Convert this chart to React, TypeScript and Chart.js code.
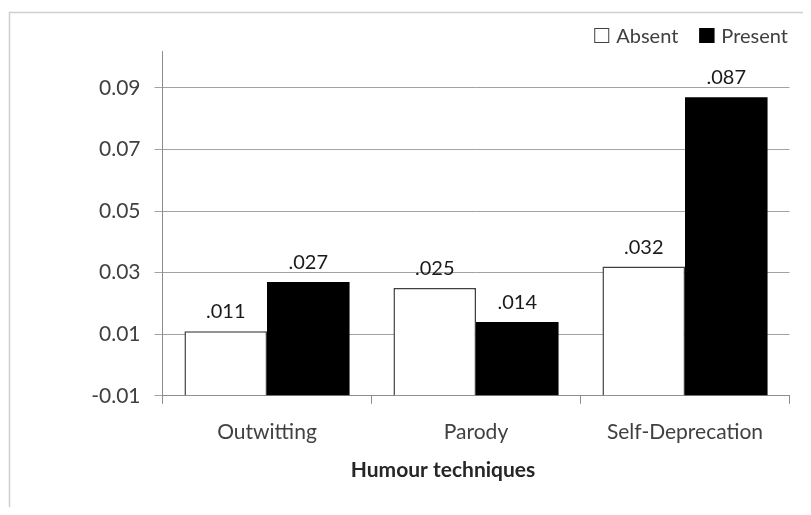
import { useEffect, useRef } from 'react';
import { Chart, registerables } from 'chart.js';

Chart.register(...registerables);

// Proportion of jokes by humour technique, split by whether the feature was present
const CATEGORIES = ['Outwitting', 'Parody', 'Self-Deprecation'];
const SERIES_NAMES = ['Absent', 'Present'];
const ABSENT = [0.011, 0.025, 0.032];
const PRESENT = [0.027, 0.014, 0.087];
const Y_TICKS = [-0.01, 0.01, 0.03, 0.05, 0.07, 0.09];
const X_TITLE = 'Humour techniques';

const Y_MIN = -0.01;
const Y_MAX = 0.102;

const FONT = 'Lato, "Open Sans", sans-serif';
const TEXT_GREY = '#404040';
const AXIS_GREY = '#8c8c8c';
const GRID_GREY = '#a3a3a3';

const CANVAS_W = 795;
const CANVAS_H = 499;

// ".011" style labels
const formatValue = (v: number) => v.toFixed(3).replace(/^0/, '');

// Light outer frame of the chart object
const framePlugin = {
  id: 'frame',
  beforeDraw(chart: Chart) {
    const { ctx } = chart;
    ctx.save();
    ctx.strokeStyle = '#cfcfcf';
    ctx.lineWidth = 1.5;
    ctx.strokeRect(1.5, 4.5, 2000, 2000);
    ctx.restore();
  },
};

// Value labels above each bar
const valueLabelPlugin = {
  id: 'valueLabels',
  afterDatasetsDraw(chart: Chart) {
    const { ctx } = chart;
    ctx.save();
    ctx.font = `20px ${FONT}`;
    ctx.fillStyle = '#1a1a1a';
    ctx.textAlign = 'center';
    ctx.textBaseline = 'alphabetic';
    chart.data.datasets.forEach((ds, i) => {
      const meta = chart.getDatasetMeta(i);
      meta.data.forEach((el: any, j: number) => {
        const v = ds.data[j] as number;
        ctx.fillText(formatValue(v), el.x, el.y - 13);
      });
    });
    ctx.restore();
  },
};

// Legend in the top-right corner, built from the datasets
const legendPlugin = {
  id: 'cornerLegend',
  afterDraw(chart: Chart) {
    const { ctx, chartArea } = chart;
    const box = 15;
    const textGap = 7;
    const itemGap = 21;
    ctx.save();
    ctx.font = `20px ${FONT}`;
    const items = chart.data.datasets.map((ds: any) => ({
      text: ds.label as string,
      fill: ds.backgroundColor as string,
      stroke: ds.borderColor as string,
      w: ctx.measureText(ds.label).width,
    }));
    const total =
      items.reduce((s, it) => s + box + textGap + it.w, 0) + itemGap * (items.length - 1);
    let x = chartArea.right - 1.5 - total;
    const top = 20;
    items.forEach((it) => {
      ctx.fillStyle = it.fill;
      ctx.fillRect(x, top, box, box);
      ctx.strokeStyle = it.stroke;
      ctx.lineWidth = 1;
      ctx.strokeRect(x + 0.5, top + 0.5, box - 1, box - 1);
      ctx.fillStyle = TEXT_GREY;
      ctx.textAlign = 'left';
      ctx.textBaseline = 'alphabetic';
      ctx.fillText(it.text, x + box + textGap, top + 15);
      x += box + textGap + it.w + itemGap;
    });
    ctx.restore();
  },
};

// Category axis caption, centred on the chart frame
const axisCaptionPlugin = {
  id: 'axisCaption',
  afterDraw(chart: Chart) {
    const { ctx } = chart;
    ctx.save();
    ctx.font = `bold 21px ${FONT}`;
    ctx.fillStyle = '#262626';
    ctx.textAlign = 'center';
    ctx.textBaseline = 'alphabetic';
    ctx.fillText(X_TITLE, 435, 469);
    ctx.restore();
  },
};

export default function App() {
  const canvasRef = useRef<HTMLCanvasElement | null>(null);

  useEffect(() => {
    if (!canvasRef.current) return;
    const chart = new Chart(canvasRef.current, {
      type: 'bar',
      data: {
        labels: CATEGORIES,
        datasets: [
          {
            label: SERIES_NAMES[0],
            data: ABSENT,
            backgroundColor: '#ffffff',
            borderColor: TEXT_GREY,
            borderWidth: 1.5,
            base: Y_MIN,
          } as any,
          {
            label: SERIES_NAMES[1],
            data: PRESENT,
            backgroundColor: '#000000',
            borderColor: '#000000',
            borderWidth: 0,
            base: Y_MIN,
          } as any,
        ],
      },
      options: {
        responsive: false,
        animation: false,
        layout: { padding: { top: 43, right: 13.5, bottom: 46, left: 0 } },
        datasets: { bar: { categoryPercentage: 0.79, barPercentage: 1 } },
        plugins: {
          legend: { display: false },
          tooltip: { enabled: false },
        },
        scales: {
          x: {
            grid: {
              drawOnChartArea: false,
              drawTicks: true,
              tickLength: 8,
              color: AXIS_GREY,
              offset: true,
            },
            border: { color: AXIS_GREY, width: 1 },
            ticks: {
              font: { family: FONT, size: 21 },
              color: TEXT_GREY,
              padding: 16,
              maxRotation: 0,
            },
          },
          y: {
            min: Y_MIN,
            max: Y_MAX,
            afterBuildTicks: (scale: any) => {
              scale.ticks = Y_TICKS.map((v) => ({ value: v }));
            },
            afterFit: (scale: any) => {
              scale.width = 154.5;
            },
            grid: { color: GRID_GREY, tickLength: 8, lineWidth: 1 },
            border: { color: AXIS_GREY, width: 1 },
            ticks: {
              font: { family: FONT, size: 21 },
              color: TEXT_GREY,
              padding: 14,
              callback: (v: any) => Number(v).toFixed(2),
            },
          },
        },
      },
      plugins: [framePlugin, valueLabelPlugin, legendPlugin, axisCaptionPlugin],
    });
    return () => chart.destroy();
  }, []);

  return (
    <canvas
      ref={canvasRef}
      width={CANVAS_W}
      height={CANVAS_H}
      style={{ display: 'block', width: CANVAS_W, height: CANVAS_H }}
    />
  );
}
